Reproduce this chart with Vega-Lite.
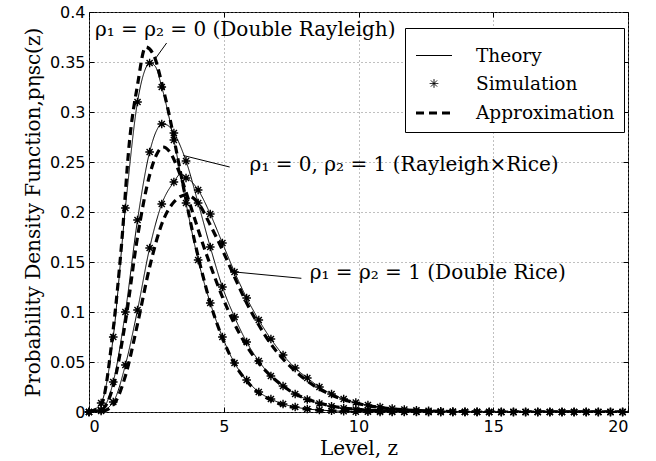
{
 "$schema": "https://vega.github.io/schema/vega-lite/v6.json",
 "width": 539,
 "height": 400,
 "autosize": {"type": "none"},
 "padding": {"left": 89, "top": 12, "right": 28, "bottom": 49},
 "background": "white",
 "datasets": {
  "theory": [
   {"c":"A","z":0,"p":0},{"c":"A","z":0.45,"p":0.009},{"c":"A","z":0.9,"p":0.075},{"c":"A","z":1.35,"p":0.204},{"c":"A","z":1.8,"p":0.31},{"c":"A","z":2.05,"p":0.34},{"c":"A","z":2.25,"p":0.349},{"c":"A","z":2.45,"p":0.346},{"c":"A","z":2.7,"p":0.325},{"c":"A","z":3.15,"p":0.272},{"c":"A","z":3.6,"p":0.209},{"c":"A","z":4.05,"p":0.152},{"c":"A","z":4.5,"p":0.109},{"c":"A","z":4.95,"p":0.075},{"c":"A","z":5.4,"p":0.049},{"c":"A","z":5.85,"p":0.032},{"c":"A","z":6.3,"p":0.02},{"c":"A","z":6.75,"p":0.013},{"c":"A","z":7.2,"p":0.008},{"c":"A","z":7.65,"p":0.005},{"c":"A","z":8.1,"p":0.003},{"c":"A","z":8.55,"p":0.002},{"c":"A","z":9,"p":0.0012},{"c":"A","z":9.9,"p":0.0004},{"c":"A","z":10.8,"p":0.0001},{"c":"A","z":12,"p":0},{"c":"A","z":20,"p":0},
   {"c":"B","z":0,"p":0},{"c":"B","z":0.45,"p":0.002},{"c":"B","z":0.9,"p":0.03},{"c":"B","z":1.35,"p":0.1},{"c":"B","z":1.8,"p":0.192},{"c":"B","z":2.25,"p":0.26},{"c":"B","z":2.5,"p":0.281},{"c":"B","z":2.7,"p":0.288},{"c":"B","z":2.9,"p":0.287},{"c":"B","z":3.15,"p":0.279},{"c":"B","z":3.6,"p":0.251},{"c":"B","z":4.05,"p":0.209},{"c":"B","z":4.5,"p":0.165},{"c":"B","z":4.95,"p":0.125},{"c":"B","z":5.4,"p":0.095},{"c":"B","z":5.85,"p":0.07},{"c":"B","z":6.3,"p":0.051},{"c":"B","z":6.75,"p":0.036},{"c":"B","z":7.2,"p":0.026},{"c":"B","z":7.65,"p":0.018},{"c":"B","z":8.1,"p":0.0125},{"c":"B","z":8.55,"p":0.0085},{"c":"B","z":9,"p":0.0057},{"c":"B","z":9.9,"p":0.0025},{"c":"B","z":10.8,"p":0.001},{"c":"B","z":11.7,"p":0.0004},{"c":"B","z":13,"p":0},{"c":"B","z":20,"p":0},
   {"c":"C","z":0,"p":0},{"c":"C","z":0.45,"p":0.001},{"c":"C","z":0.9,"p":0.01},{"c":"C","z":1.35,"p":0.047},{"c":"C","z":1.8,"p":0.102},{"c":"C","z":2.25,"p":0.164},{"c":"C","z":2.7,"p":0.208},{"c":"C","z":3.15,"p":0.23},{"c":"C","z":3.4,"p":0.238},{"c":"C","z":3.6,"p":0.235},{"c":"C","z":4.05,"p":0.222},{"c":"C","z":4.5,"p":0.198},{"c":"C","z":4.95,"p":0.169},{"c":"C","z":5.4,"p":0.14},{"c":"C","z":5.85,"p":0.114},{"c":"C","z":6.3,"p":0.092},{"c":"C","z":6.75,"p":0.073},{"c":"C","z":7.2,"p":0.057},{"c":"C","z":7.65,"p":0.044},{"c":"C","z":8.1,"p":0.034},{"c":"C","z":8.55,"p":0.025},{"c":"C","z":9,"p":0.018},{"c":"C","z":9.45,"p":0.013},{"c":"C","z":9.9,"p":0.0095},{"c":"C","z":10.8,"p":0.005},{"c":"C","z":11.7,"p":0.0025},{"c":"C","z":12.6,"p":0.0012},{"c":"C","z":13.5,"p":0.0005},{"c":"C","z":14.4,"p":0.0002},{"c":"C","z":15.5,"p":0},{"c":"C","z":20,"p":0}
  ],
  "approx": [
   {"c":"A","z":0,"p":0},{"c":"A","z":0.45,"p":0.007},{"c":"A","z":0.9,"p":0.083},{"c":"A","z":1.2,"p":0.165},{"c":"A","z":1.5,"p":0.27},{"c":"A","z":1.8,"p":0.327},{"c":"A","z":2.1,"p":0.365},{"c":"A","z":2.4,"p":0.357},{"c":"A","z":2.7,"p":0.329},{"c":"A","z":3,"p":0.294},{"c":"A","z":3.3,"p":0.253},{"c":"A","z":3.6,"p":0.212},{"c":"A","z":3.9,"p":0.173},{"c":"A","z":4.2,"p":0.139},{"c":"A","z":4.5,"p":0.109},{"c":"A","z":4.95,"p":0.074},{"c":"A","z":5.4,"p":0.048},{"c":"A","z":5.85,"p":0.031},{"c":"A","z":6.3,"p":0.019},{"c":"A","z":6.75,"p":0.012},{"c":"A","z":7.2,"p":0.007},{"c":"A","z":7.65,"p":0.0045},{"c":"A","z":8.1,"p":0.0028},{"c":"A","z":9,"p":0.001},{"c":"A","z":10,"p":0.0003},{"c":"A","z":11,"p":0},{"c":"A","z":20,"p":0},
   {"c":"B","z":0,"p":0},{"c":"B","z":0.45,"p":0.002},{"c":"B","z":0.9,"p":0.026},{"c":"B","z":1.35,"p":0.09},{"c":"B","z":1.8,"p":0.175},{"c":"B","z":2.25,"p":0.237},{"c":"B","z":2.5,"p":0.257},{"c":"B","z":2.75,"p":0.265},{"c":"B","z":3,"p":0.26},{"c":"B","z":3.3,"p":0.243},{"c":"B","z":3.6,"p":0.22},{"c":"B","z":3.9,"p":0.195},{"c":"B","z":4.2,"p":0.17},{"c":"B","z":4.5,"p":0.147},{"c":"B","z":4.95,"p":0.115},{"c":"B","z":5.4,"p":0.088},{"c":"B","z":5.85,"p":0.066},{"c":"B","z":6.3,"p":0.049},{"c":"B","z":6.75,"p":0.036},{"c":"B","z":7.2,"p":0.026},{"c":"B","z":7.65,"p":0.018},{"c":"B","z":8.1,"p":0.013},{"c":"B","z":8.55,"p":0.009},{"c":"B","z":9,"p":0.006},{"c":"B","z":9.9,"p":0.0027},{"c":"B","z":10.8,"p":0.0012},{"c":"B","z":12,"p":0.0004},{"c":"B","z":13,"p":0},{"c":"B","z":20,"p":0},
   {"c":"C","z":0,"p":0},{"c":"C","z":0.45,"p":0.0005},{"c":"C","z":0.9,"p":0.007},{"c":"C","z":1.35,"p":0.036},{"c":"C","z":1.8,"p":0.088},{"c":"C","z":2.25,"p":0.145},{"c":"C","z":2.7,"p":0.188},{"c":"C","z":3.15,"p":0.21},{"c":"C","z":3.6,"p":0.217},{"c":"C","z":4.05,"p":0.209},{"c":"C","z":4.5,"p":0.187},{"c":"C","z":4.95,"p":0.162},{"c":"C","z":5.4,"p":0.135},{"c":"C","z":5.85,"p":0.109},{"c":"C","z":6.3,"p":0.087},{"c":"C","z":6.75,"p":0.068},{"c":"C","z":7.2,"p":0.053},{"c":"C","z":7.65,"p":0.041},{"c":"C","z":8.1,"p":0.031},{"c":"C","z":8.55,"p":0.023},{"c":"C","z":9,"p":0.017},{"c":"C","z":9.9,"p":0.009},{"c":"C","z":10.8,"p":0.0045},{"c":"C","z":11.7,"p":0.0022},{"c":"C","z":12.6,"p":0.001},{"c":"C","z":13.5,"p":0.0004},{"c":"C","z":15,"p":0},{"c":"C","z":20,"p":0}
  ],
  "sim": [
   {"c":"A","z":0,"p":0},{"c":"A","z":0.45,"p":0.009},{"c":"A","z":0.9,"p":0.075},{"c":"A","z":1.35,"p":0.204},{"c":"A","z":1.8,"p":0.31},{"c":"A","z":2.25,"p":0.349},{"c":"A","z":2.7,"p":0.325},{"c":"A","z":3.15,"p":0.272},{"c":"A","z":3.6,"p":0.209},{"c":"A","z":4.05,"p":0.152},{"c":"A","z":4.5,"p":0.109},{"c":"A","z":4.95,"p":0.075},{"c":"A","z":5.4,"p":0.049},{"c":"A","z":5.85,"p":0.032},{"c":"A","z":6.3,"p":0.02},{"c":"A","z":6.75,"p":0.013},{"c":"A","z":7.2,"p":0.008},{"c":"A","z":7.65,"p":0.005},{"c":"A","z":8.1,"p":0.003},{"c":"A","z":8.55,"p":0.002},{"c":"A","z":9,"p":0.0012},{"c":"A","z":9.45,"p":0.0007},{"c":"A","z":9.9,"p":0.0004},{"c":"A","z":10.35,"p":0.0002},{"c":"A","z":10.8,"p":0},{"c":"A","z":11.25,"p":0},{"c":"A","z":11.7,"p":0},{"c":"A","z":12.15,"p":0},{"c":"A","z":12.6,"p":0},{"c":"A","z":13.05,"p":0},{"c":"A","z":13.5,"p":0},{"c":"A","z":13.95,"p":0},{"c":"A","z":14.4,"p":0},{"c":"A","z":14.85,"p":0},{"c":"A","z":15.3,"p":0},{"c":"A","z":15.75,"p":0},{"c":"A","z":16.2,"p":0},{"c":"A","z":16.65,"p":0},{"c":"A","z":17.1,"p":0},{"c":"A","z":17.55,"p":0},{"c":"A","z":18,"p":0},{"c":"A","z":18.45,"p":0},{"c":"A","z":18.9,"p":0},{"c":"A","z":19.35,"p":0},{"c":"A","z":19.8,"p":0},
   {"c":"B","z":0,"p":0},{"c":"B","z":0.45,"p":0.002},{"c":"B","z":0.9,"p":0.03},{"c":"B","z":1.35,"p":0.1},{"c":"B","z":1.8,"p":0.192},{"c":"B","z":2.25,"p":0.26},{"c":"B","z":2.7,"p":0.288},{"c":"B","z":3.15,"p":0.279},{"c":"B","z":3.6,"p":0.251},{"c":"B","z":4.05,"p":0.209},{"c":"B","z":4.5,"p":0.165},{"c":"B","z":4.95,"p":0.125},{"c":"B","z":5.4,"p":0.095},{"c":"B","z":5.85,"p":0.07},{"c":"B","z":6.3,"p":0.051},{"c":"B","z":6.75,"p":0.036},{"c":"B","z":7.2,"p":0.026},{"c":"B","z":7.65,"p":0.018},{"c":"B","z":8.1,"p":0.0125},{"c":"B","z":8.55,"p":0.0085},{"c":"B","z":9,"p":0.0057},{"c":"B","z":9.45,"p":0.0038},{"c":"B","z":9.9,"p":0.0025},{"c":"B","z":10.35,"p":0.0016},{"c":"B","z":10.8,"p":0.001},{"c":"B","z":11.25,"p":0.0006},{"c":"B","z":11.7,"p":0.0004},{"c":"B","z":12.15,"p":0.0002},{"c":"B","z":12.6,"p":0},{"c":"B","z":13.05,"p":0},{"c":"B","z":13.5,"p":0},{"c":"B","z":13.95,"p":0},{"c":"B","z":14.4,"p":0},{"c":"B","z":14.85,"p":0},{"c":"B","z":15.3,"p":0},{"c":"B","z":15.75,"p":0},{"c":"B","z":16.2,"p":0},{"c":"B","z":16.65,"p":0},{"c":"B","z":17.1,"p":0},{"c":"B","z":17.55,"p":0},{"c":"B","z":18,"p":0},{"c":"B","z":18.45,"p":0},{"c":"B","z":18.9,"p":0},{"c":"B","z":19.35,"p":0},{"c":"B","z":19.8,"p":0},
   {"c":"C","z":0,"p":0},{"c":"C","z":0.45,"p":0.001},{"c":"C","z":0.9,"p":0.01},{"c":"C","z":1.35,"p":0.047},{"c":"C","z":1.8,"p":0.102},{"c":"C","z":2.25,"p":0.164},{"c":"C","z":2.7,"p":0.208},{"c":"C","z":3.15,"p":0.23},{"c":"C","z":3.6,"p":0.234},{"c":"C","z":4.05,"p":0.222},{"c":"C","z":4.5,"p":0.198},{"c":"C","z":4.95,"p":0.169},{"c":"C","z":5.4,"p":0.14},{"c":"C","z":5.85,"p":0.114},{"c":"C","z":6.3,"p":0.092},{"c":"C","z":6.75,"p":0.073},{"c":"C","z":7.2,"p":0.057},{"c":"C","z":7.65,"p":0.044},{"c":"C","z":8.1,"p":0.034},{"c":"C","z":8.55,"p":0.025},{"c":"C","z":9,"p":0.018},{"c":"C","z":9.45,"p":0.013},{"c":"C","z":9.9,"p":0.0095},{"c":"C","z":10.35,"p":0.007},{"c":"C","z":10.8,"p":0.005},{"c":"C","z":11.25,"p":0.0035},{"c":"C","z":11.7,"p":0.0025},{"c":"C","z":12.15,"p":0.0017},{"c":"C","z":12.6,"p":0.0012},{"c":"C","z":13.05,"p":0.0008},{"c":"C","z":13.5,"p":0.0005},{"c":"C","z":13.95,"p":0.0003},{"c":"C","z":14.4,"p":0.0002},{"c":"C","z":14.85,"p":0},{"c":"C","z":15.3,"p":0},{"c":"C","z":15.75,"p":0},{"c":"C","z":16.2,"p":0},{"c":"C","z":16.65,"p":0},{"c":"C","z":17.1,"p":0},{"c":"C","z":17.55,"p":0},{"c":"C","z":18,"p":0},{"c":"C","z":18.45,"p":0},{"c":"C","z":18.9,"p":0},{"c":"C","z":19.35,"p":0},{"c":"C","z":19.8,"p":0}
  ],
  "labels": [
   {"z":0.22,"p":0.382,"t":"ρ₁ = ρ₂ = 0 (Double Rayleigh)"},
   {"z":5.96,"p":0.247,"t":"ρ₁ = 0, ρ₂ = 1 (Rayleigh×Rice)"},
   {"z":8.19,"p":0.1387,"t":"ρ₁ = ρ₂ = 1 (Double Rice)"}
  ],
  "pointers": [
   {"z1":2.88,"p1":0.369,"z2":2.48,"p2":0.354},
   {"z1":5.22,"p1":0.245,"z2":3.5,"p2":0.2565},
   {"z1":7.88,"p1":0.1337,"z2":5.41,"p2":0.14}
  ]
 },
 "config": {
  "view": {"stroke": "black", "strokeWidth": 1},
  "axis": {
   "domainColor": "black", "tickColor": "black", "labelColor": "black",
   "labelFont": "DejaVu Sans", "labelFontSize": 16,
   "titleFont": "DejaVu Serif", "titleFontSize": 20, "titleFontWeight": "normal", "titleColor": "black",
   "gridColor": "#808080", "gridDash": [1, 3], "gridWidth": 1
  },
  "legend": {
   "labelFont": "DejaVu Serif", "labelFontSize": 18.5, "labelColor": "black",
   "symbolStrokeColor": "black", "symbolSize": 1296
  }
 },
 "resolve": {"axis": {"x": "independent", "y": "independent"}},
 "layer": [
  {
   "data": {"name": "approx"},
   "mark": {"type": "line", "interpolate": "monotone", "color": "black", "clip": true},
   "encoding": {
    "x": {"field": "z", "type": "quantitative", "scale": {"domain": [0, 20], "nice": false},
      "axis": {"values": [0, 5, 10, 15, 20], "title": "Level, z", "tickSize": -5, "labelPadding": 11, "titlePadding": 4, "domain": false}},
    "y": {"field": "p", "type": "quantitative", "scale": {"domain": [0, 0.4], "nice": false},
      "axis": {"values": [0, 0.05, 0.1, 0.15, 0.2, 0.25, 0.3, 0.35, 0.4], "format": ".2~f", "title": "Probability Density Function,pηsc(z)", "tickSize": -5, "labelPadding": 9, "titlePadding": 6, "domain": false}},
    "detail": {"field": "c"},
    "strokeDash": {"datum": "Approximation", "type": "nominal",
      "scale": {"domain": ["Theory", "Simulation", "Approximation"], "range": [[1, 0], [1, 0], [8, 5]]},
      "legend": {"title": null, "orient": "none", "legendX": 316, "legendY": 16, "strokeColor": "black", "fillColor": "white", "padding": 9, "rowPadding": 0, "labelOffset": 22, "symbolSize": 1296}},
    "strokeWidth": {"datum": "Approximation", "type": "nominal",
      "scale": {"type": "ordinal", "domain": ["Theory", "Simulation", "Approximation"], "range": [1, 1, 3.2]}}
   }
  },
  {
   "data": {"name": "theory"},
   "mark": {"type": "line", "interpolate": "monotone", "color": "black", "clip": true},
   "encoding": {
    "x": {"field": "z", "type": "quantitative", "axis": {"orient": "top", "values": [0, 5, 10, 15, 20], "labels": false, "grid": false, "title": null, "tickSize": -5, "domain": false}},
    "y": {"field": "p", "type": "quantitative", "axis": {"orient": "right", "values": [0, 0.05, 0.1, 0.15, 0.2, 0.25, 0.3, 0.35, 0.4], "labels": false, "grid": false, "title": null, "tickSize": -5, "domain": false}},
    "detail": {"field": "c"},
    "strokeDash": {"datum": "Theory", "type": "nominal",
      "scale": {"domain": ["Theory", "Simulation", "Approximation"], "range": [[1, 0], [1, 0], [8, 5]]}},
    "strokeWidth": {"datum": "Theory", "type": "nominal",
      "scale": {"type": "ordinal", "domain": ["Theory", "Simulation", "Approximation"], "range": [1, 1, 3.2]}}
   }
  },
  {
   "data": {"name": "sim"},
   "mark": {"type": "point", "filled": false, "color": "black", "size": 1296, "strokeWidth": 1.4, "opacity": 1},
   "encoding": {
    "x": {"field": "z", "type": "quantitative", "axis": null},
    "y": {"field": "p", "type": "quantitative", "axis": null},
    "shape": {"datum": "Simulation", "type": "nominal",
      "scale": {"domain": ["Theory", "Simulation", "Approximation"], "range": ["stroke", "M-0.24,0L0.24,0M0,-0.24L0,0.24M-0.17,-0.17L0.17,0.17M-0.17,0.17L0.17,-0.17", "stroke"]}}
   }
  },
  {
   "data": {"name": "pointers"},
   "mark": {"type": "rule", "color": "black", "strokeWidth": 1},
   "encoding": {
    "x": {"field": "z1", "type": "quantitative", "axis": null},
    "y": {"field": "p1", "type": "quantitative", "axis": null},
    "x2": {"field": "z2"},
    "y2": {"field": "p2"}
   }
  },
  {
   "data": {"name": "labels"},
   "mark": {"type": "text", "align": "left", "baseline": "middle", "font": "DejaVu Serif", "fontSize": 20, "color": "black"},
   "encoding": {
    "x": {"field": "z", "type": "quantitative", "axis": null},
    "y": {"field": "p", "type": "quantitative", "axis": null},
    "text": {"field": "t"}
   }
  }
 ]
}
